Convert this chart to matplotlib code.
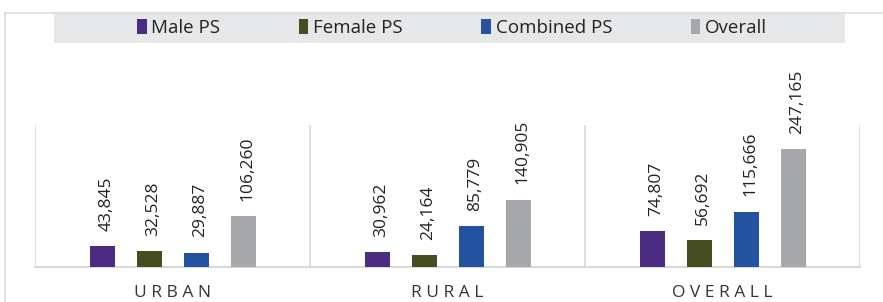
import matplotlib.pyplot as plt
from matplotlib.patches import Rectangle
from matplotlib.lines import Line2D
import numpy as np

categories = ["URBAN", "RURAL", "OVERALL"]
series_names = ["Male PS", "Female PS", "Combined PS", "Overall"]
male_ps = [43845, 30962, 74807]
female_ps = [32528, 24164, 56692]
combined_ps = [29887, 85779, 115666]
overall = [106260, 140905, 247165]
colors = ["#4B2C83", "#464E21", "#2353A0", "#A6A7AB"]

plt.rcParams["font.family"] = ["Open Sans", "DejaVu Sans"]

W, H = 883, 302
fig = plt.figure(figsize=(W / 100, H / 100), dpi=100)

# plot area
ax = fig.add_axes([35 / W, 1 - 267 / H, 825 / W, 142 / H])
x = np.arange(len(categories))
bw = 25 / 275
step = 47 / 275
series = [male_ps, female_ps, combined_ps, overall]
for i, (vals, name, c) in enumerate(zip(series, series_names, colors)):
    xs = x + (i - 1.5) * step
    ax.bar(xs, vals, width=bw, color=c, label=name, zorder=3)
    for xi, v in zip(xs, vals):
        ax.annotate(f"{v:,}", (xi, v), xytext=(3, 11), textcoords="offset points",
                    rotation=90, ha="center", va="bottom", fontsize=12.5,
                    color="#222222", annotation_clip=False)

ax.set_xlim(-0.5, 2.5)
ax.set_ylim(0, 297000)
ax.set_yticks([])
ax.set_xticks(x)
ax.set_xticklabels([" ".join(c) for c in categories], fontsize=12.5, color="#333333")
ax.tick_params(axis="x", length=0, pad=13)
for s in ["top", "left", "right"]:
    ax.spines[s].set_visible(False)
ax.spines["bottom"].set_color("#D9D9D9")
ax.spines["bottom"].set_linewidth(1.5)
for b in [-0.5, 0.5, 1.5, 2.5]:
    ax.axvline(b, color="#D9D9D9", lw=1.2, zorder=1)

# legend band
fig.patches.append(Rectangle((54 / W, 1 - 43 / H), 791 / W, 30 / H,
                             transform=fig.transFigure, facecolor="#E6E7E9",
                             edgecolor="none", zorder=0))
fig.lines.append(Line2D([5 / W, 1], [1 - 13 / H, 1 - 13 / H], transform=fig.transFigure,
                        color="#DDDDDD", lw=1.2))
fig.lines.append(Line2D([5 / W, 5 / W], [0, 1 - 13 / H], transform=fig.transFigure,
                        color="#DDDDDD", lw=1.2))
h, l = ax.get_legend_handles_labels()
fig.legend(h, l, loc="center", bbox_to_anchor=(452 / W, 1 - 28 / H), ncol=4,
           frameon=False, fontsize=13.5, handlelength=0.5, handleheight=0.8,
           handletextpad=0.25, columnspacing=4.2, labelcolor="#222222")

fig.savefig("out.png", dpi=100)
